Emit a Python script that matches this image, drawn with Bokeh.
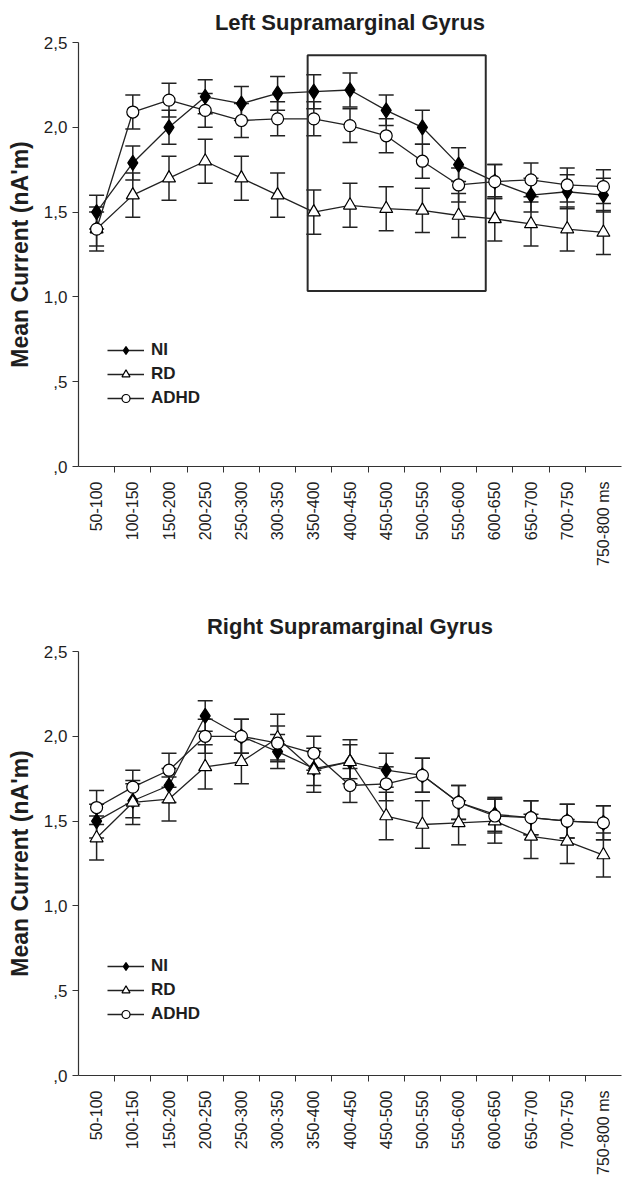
import numpy as np
from bokeh.plotting import figure
from bokeh.models import (ColumnDataSource, Whisker, TeeHead, FixedTicker, Legend,
                          LegendItem, BoxAnnotation, Range1d)
from bokeh.layouts import column
from bokeh.embed import file_html
from bokeh.resources import INLINE

# ---------------- data ----------------
categories = ["50-100", "100-150", "150-200", "200-250", "250-300", "300-350",
              "350-400", "400-450", "450-500", "500-550", "550-600", "600-650",
              "650-700", "700-750", "750-800 ms"]
y_ticks = [0.0, 0.5, 1.0, 1.5, 2.0, 2.5]
y_tick_labels = [",0", ",5", "1,0", "1,5", "2,0", "2,5"]
series_names = ["NI", "RD", "ADHD"]

left_ni = [1.50, 1.79, 2.00, 2.18, 2.14, 2.20, 2.21, 2.22, 2.10, 2.00, 1.78, 1.68, 1.60, 1.62, 1.60]
left_rd = [1.40, 1.60, 1.70, 1.80, 1.70, 1.60, 1.50, 1.54, 1.52, 1.51, 1.48, 1.46, 1.43, 1.40, 1.38]
left_adhd = [1.40, 2.09, 2.16, 2.10, 2.04, 2.05, 2.05, 2.01, 1.95, 1.80, 1.66, 1.68, 1.69, 1.66, 1.65]
left_ni_err = [0.10, 0.10, 0.10, 0.10, 0.10, 0.10, 0.10, 0.10, 0.09, 0.10, 0.10, 0.10, 0.10, 0.10, 0.10]
left_rd_err = [0.13, 0.13, 0.13, 0.13, 0.13, 0.13, 0.13, 0.13, 0.13, 0.13, 0.13, 0.13, 0.13, 0.13, 0.13]
left_adhd_err = [0.10, 0.10, 0.10, 0.10, 0.10, 0.10, 0.10, 0.10, 0.10, 0.10, 0.10, 0.10, 0.10, 0.10, 0.10]

right_ni = [1.50, 1.62, 1.71, 2.12, 2.00, 1.91, 1.81, 1.85, 1.80, 1.77, 1.61, 1.54, 1.52, 1.50, 1.49]
right_rd = [1.40, 1.61, 1.63, 1.82, 1.85, 1.99, 1.80, 1.85, 1.53, 1.48, 1.49, 1.50, 1.41, 1.38, 1.30]
right_adhd = [1.58, 1.70, 1.80, 2.00, 2.00, 1.96, 1.90, 1.71, 1.72, 1.77, 1.61, 1.53, 1.52, 1.50, 1.49]
right_ni_err = [0.10, 0.10, 0.10, 0.09, 0.10, 0.10, 0.10, 0.10, 0.10, 0.10, 0.10, 0.10, 0.10, 0.10, 0.10]
right_rd_err = [0.13, 0.13, 0.13, 0.13, 0.13, 0.14, 0.13, 0.13, 0.14, 0.14, 0.13, 0.13, 0.13, 0.13, 0.13]
right_adhd_err = [0.10, 0.10, 0.10, 0.10, 0.10, 0.10, 0.10, 0.10, 0.10, 0.10, 0.10, 0.10, 0.10, 0.10, 0.10]

FONT = "Liberation Sans"
INK = "#1e1e1e"


def make_panel(title, ni, rd, adhd, ni_err, rd_err, adhd_err, height, top_border,
               bottom_border, legend_y, title_standoff, box=None):
    n = len(categories)
    centers = [i + 0.5 for i in range(n)]
    p = figure(width=627, height=height, x_range=Range1d(0, n), y_range=Range1d(0, 2.5),
               output_backend="svg", toolbar_location=None,
               min_border_left=78, min_border_right=6, min_border_top=top_border,
               min_border_bottom=bottom_border)
    p.outline_line_color = None
    p.xgrid.visible = False
    p.ygrid.visible = False
    p.background_fill_color = "white"
    p.border_fill_color = "white"

    p.title.text = title
    p.title.align = "center"
    p.title.text_font = FONT
    p.title.text_font_size = "22px"
    p.title.text_font_style = "bold"
    p.title.text_color = INK
    p.title.standoff = title_standoff

    # x axis
    xa = p.xaxis[0]
    xa.ticker = FixedTicker(ticks=centers, minor_ticks=[float(i) for i in range(1, n)])
    xa.major_label_overrides = {c: lab for c, lab in zip(centers, categories)}
    xa.major_label_orientation = np.pi / 2
    xa.major_tick_in = 0
    xa.major_tick_out = 0
    xa.minor_tick_in = 0
    xa.minor_tick_out = 6
    xa.minor_tick_line_color = "#333333"
    xa.axis_line_color = "#333333"
    xa.axis_line_width = 1.2
    xa.major_label_text_font = FONT
    xa.major_label_text_font_size = "16px"
    xa.major_label_text_color = INK
    xa.major_label_standoff = 9

    # y axis
    ya = p.yaxis[0]
    ya.ticker = FixedTicker(ticks=y_ticks)
    ya.major_label_overrides = {t: lab for t, lab in zip(y_ticks, y_tick_labels)}
    ya.minor_tick_line_color = None
    ya.major_tick_in = 0
    ya.major_tick_out = 6
    ya.major_tick_line_color = "#333333"
    ya.axis_line_color = "#333333"
    ya.axis_line_width = 1.2
    ya.major_label_text_font = FONT
    ya.major_label_text_font_size = "17px"
    ya.major_label_text_color = INK
    ya.major_label_standoff = 5
    ya.axis_label = "Mean Current (nA'm)"
    ya.axis_label_text_font = FONT
    ya.axis_label_text_font_size = "23px"
    ya.axis_label_text_font_style = "bold"
    ya.axis_label_text_color = INK
    ya.axis_label_standoff = 8

    if box is not None:
        p.add_layout(BoxAnnotation(left=box[0], right=box[1], bottom=box[2], top=box[3],
                                   fill_alpha=0, line_color="#2a2a2a", line_alpha=1.0,
                                   line_width=2))

    specs = [
        (series_names[0], ni, ni_err, dict(marker="diamond", size=15,
                                            fill_color="black", line_color="black")),
        (series_names[1], rd, rd_err, dict(marker="triangle", size=13,
                                            fill_color="white", line_color="black")),
        (series_names[2], adhd, adhd_err, dict(marker="circle", size=12,
                                                fill_color="white", line_color="black")),
    ]
    items = []
    for name, vals, errs, mk in specs:
        src = ColumnDataSource(dict(x=centers, y=vals,
                                    upper=[v + e for v, e in zip(vals, errs)],
                                    lower=[v - e for v, e in zip(vals, errs)]))
        w = Whisker(base="x", upper="upper", lower="lower", source=src,
                    line_color="#222222", line_width=1.5,
                    upper_head=TeeHead(size=15, line_color="#222222", line_width=1.5),
                    lower_head=TeeHead(size=15, line_color="#222222", line_width=1.5))
        p.add_layout(w)
        ln = p.line("x", "y", source=src, line_color="#222222", line_width=1.3)
        sc = p.scatter("x", "y", source=src, line_width=1.2, **mk)
        items.append(LegendItem(label=name, renderers=[ln, sc]))

    legend = Legend(items=items, location=(29, legend_y), orientation="vertical",
                    glyph_width=37, glyph_height=20, label_height=20, spacing=4,
                    padding=0, margin=0, border_line_alpha=0, background_fill_alpha=0,
                    label_text_font=FONT, label_text_font_size="17px",
                    label_text_font_style="bold", label_text_color=INK, label_standoff=7)
    p.add_layout(legend)
    return p


p1 = make_panel("Left Supramarginal Gyrus", left_ni, left_rd, left_adhd,
                left_ni_err, left_rd_err, left_adhd_err, height=599, top_border=41,
                bottom_border=133, legend_y=58, title_standoff=15,
                box=(6.33, 11.25, 1.035, 2.425))
p2 = make_panel("Right Supramarginal Gyrus", right_ni, right_rd, right_adhd,
                right_ni_err, right_rd_err, right_adhd_err, height=586, top_border=51,
                bottom_border=110, legend_y=51, title_standoff=25)

layout = column(p1, p2, spacing=0)
open("out.html", "w").write(file_html(layout, INLINE))
